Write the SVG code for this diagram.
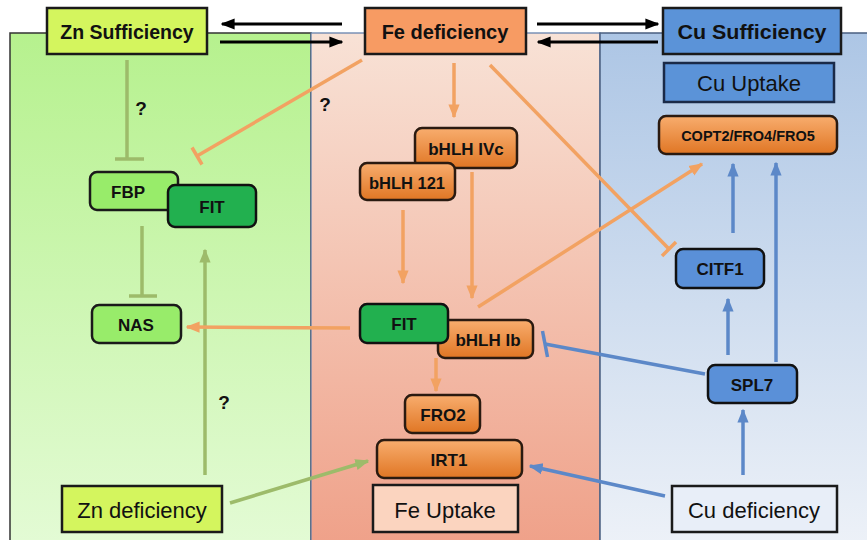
<svg xmlns="http://www.w3.org/2000/svg" width="867" height="540" viewBox="0 0 867 540">
<defs>
<linearGradient id="gL" x1="0" y1="0" x2="0" y2="1"><stop offset="0" stop-color="#b6f18e"/><stop offset="1" stop-color="#e4fbd6"/></linearGradient>
<linearGradient id="gM" x1="0" y1="0" x2="0" y2="1"><stop offset="0" stop-color="#f8e2d6"/><stop offset="1" stop-color="#efa088"/></linearGradient>
<linearGradient id="gR" x1="0" y1="0" x2="0" y2="1"><stop offset="0" stop-color="#adc6e5"/><stop offset="1" stop-color="#eef2f8"/></linearGradient>
<linearGradient id="gO" x1="0" y1="0" x2="0" y2="1"><stop offset="0" stop-color="#f8ad6e"/><stop offset="1" stop-color="#e07624"/></linearGradient>
<marker id="aO" markerUnits="userSpaceOnUse" markerWidth="14" markerHeight="14" viewBox="0 0 10 10" refX="9" refY="5" orient="auto"><path d="M0,1 L10,5 L0,9 Z" fill="#f2a262"/></marker>
<marker id="aG" markerUnits="userSpaceOnUse" markerWidth="14" markerHeight="14" viewBox="0 0 10 10" refX="9" refY="5" orient="auto"><path d="M0,1 L10,5 L0,9 Z" fill="#9dbb6a"/></marker>
<marker id="aB" markerUnits="userSpaceOnUse" markerWidth="14" markerHeight="14" viewBox="0 0 10 10" refX="9" refY="5" orient="auto"><path d="M0,1 L10,5 L0,9 Z" fill="#5c88c8"/></marker>
<marker id="aK" markerUnits="userSpaceOnUse" markerWidth="14" markerHeight="14" viewBox="0 0 10 10" refX="9" refY="5" orient="auto"><path d="M0,1 L10,5 L0,9 Z" fill="#000"/></marker>
</defs>
<style>
.t{font-family:"Liberation Sans",Arial,sans-serif;text-anchor:middle;dominant-baseline:central;fill:#111}
.b{font-weight:bold}
.o{stroke:#f2a262;stroke-width:3.5;fill:none}
.g{stroke:#9dbb6a;stroke-width:3.5;fill:none}
.bl{stroke:#5c88c8;stroke-width:3.5;fill:none}
.k{stroke:#000;stroke-width:3;fill:none}
.on{fill:url(#gO);stroke:#2a1a10;stroke-width:2.5}
.lg{fill:#98ec6a;stroke:#1a1a1a;stroke-width:2.5}
.dg{fill:#22b04f;stroke:#111;stroke-width:2.5}
.bn{fill:#5a90d8;stroke:#111;stroke-width:2.5}
</style>
<g id="panels">
<rect x="10" y="33" width="301" height="520" fill="url(#gL)" stroke="#333" stroke-width="1.5"/>
<rect x="311" y="33" width="289" height="520" fill="url(#gM)" stroke="#5a7aa8" stroke-width="1.2"/>
<rect x="600" y="33" width="280" height="520" fill="url(#gR)" stroke="#4a5f80" stroke-width="1.5"/>
</g>
<g id="connectors">
<line class="k" x1="342" y1="24" x2="222" y2="24" marker-end="url(#aK)"/>
<line class="k" x1="220" y1="42" x2="342" y2="42" marker-end="url(#aK)"/>
<line class="k" x1="537" y1="24" x2="658" y2="24" marker-end="url(#aK)"/>
<line class="k" x1="658" y1="42" x2="538" y2="42" marker-end="url(#aK)"/>
<line class="g" x1="127" y1="60" x2="127" y2="159"/>
<line class="g" x1="115" y1="159" x2="144" y2="159"/>
<line class="g" x1="142" y1="226" x2="142" y2="296"/>
<line class="g" x1="129" y1="296" x2="157" y2="296"/>
<line class="g" x1="205" y1="475" x2="205" y2="250" marker-end="url(#aG)"/>
<line class="g" x1="230" y1="503" x2="368" y2="461" marker-end="url(#aG)"/>
<line class="o" x1="362" y1="60" x2="197" y2="156"/>
<line class="o" x1="192" y1="147.5" x2="202" y2="164.5"/>
<line class="o" x1="490" y1="65" x2="669" y2="249"/>
<line class="o" x1="662" y1="256" x2="676" y2="242"/>
<line class="o" x1="454" y1="63" x2="454" y2="117" marker-end="url(#aO)"/>
<line class="o" x1="403" y1="210" x2="403" y2="283" marker-end="url(#aO)"/>
<line class="o" x1="472" y1="172" x2="472" y2="298" marker-end="url(#aO)"/>
<line class="o" x1="478" y1="307" x2="702" y2="164" marker-end="url(#aO)"/>
<line class="o" x1="350" y1="328" x2="187" y2="327" marker-end="url(#aO)"/>
<line class="o" x1="436" y1="358" x2="436" y2="391" marker-end="url(#aO)"/>
<line class="bl" x1="705" y1="374" x2="545" y2="344"/>
<line class="bl" x1="542.5" y1="331" x2="547.5" y2="357"/>
<line class="bl" x1="665" y1="496" x2="530" y2="466" marker-end="url(#aB)"/>
<line class="bl" x1="733" y1="233" x2="733" y2="164" marker-end="url(#aB)"/>
<line class="bl" x1="776" y1="362" x2="776" y2="163" marker-end="url(#aB)"/>
<line class="bl" x1="728" y1="355" x2="728" y2="299" marker-end="url(#aB)"/>
<line class="bl" x1="743" y1="475" x2="743" y2="410" marker-end="url(#aB)"/>
</g>
<g id="q-labels">
<text class="t b" x="141" y="108" font-size="19">?</text>
<text class="t b" x="325" y="104" font-size="19">?</text>
<text class="t b" x="224" y="402" font-size="19">?</text>
</g>
<g id="zn-sufficiency"><rect x="47" y="8" width="160" height="46" fill="#d4f55e" stroke="#1a1a1a" stroke-width="2.5"/><text class="t b" x="127" y="32" font-size="19.5">Zn Sufficiency</text></g>
<g id="fe-deficiency"><rect x="365" y="8" width="161" height="46" fill="#f79b63" stroke="#1a1a1a" stroke-width="2.5"/><text class="t b" x="445" y="32" font-size="20">Fe deficiency</text></g>
<g id="cu-sufficiency"><rect x="663" y="8" width="178" height="46" fill="#5b93d8" stroke="#1a1a1a" stroke-width="2.5"/><text class="t b" x="752" y="32" font-size="20" textLength="149" lengthAdjust="spacingAndGlyphs">Cu Sufficiency</text></g>
<g id="cu-uptake"><rect x="664" y="63" width="170" height="39" fill="#5b93d8" stroke="#1a2a48" stroke-width="2.5"/><text class="t" x="749" y="83" font-size="22">Cu Uptake</text></g>
<g id="copt2"><rect class="on" x="659" y="116" width="178" height="38" rx="7"/><text class="t b" x="748" y="136" font-size="14.5">COPT2/FRO4/FRO5</text></g>
<g id="fbp"><rect class="lg" x="90" y="172" width="88" height="38" rx="7"/><text class="t b" x="128" y="192" font-size="17">FBP</text></g>
<g id="fit-left"><rect class="dg" x="168" y="185" width="88" height="42" rx="7"/><text class="t b" x="212" y="207" font-size="17">FIT</text></g>
<g id="nas"><rect class="lg" x="92" y="305" width="89" height="38" rx="7"/><text class="t b" x="136" y="325" font-size="17">NAS</text></g>
<g id="zn-deficiency"><rect x="62" y="486" width="160" height="46" fill="#d4f55e" stroke="#1a1a1a" stroke-width="2.5"/><text class="t" x="142" y="510" font-size="22">Zn deficiency</text></g>
<g id="bhlh-ivc"><rect class="on" x="415" y="128" width="102" height="40" rx="7"/><text class="t b" x="466" y="149" font-size="17">bHLH IVc</text></g>
<g id="bhlh-121"><rect class="on" x="360" y="163" width="95" height="37" rx="7"/><text class="t b" x="407" y="183" font-size="16.5">bHLH 121</text></g>
<g id="bhlh-ib"><rect class="on" x="438" y="320" width="95" height="38" rx="7"/><text class="t b" x="488" y="340" font-size="17">bHLH Ib</text></g>
<g id="fit-mid"><rect class="dg" x="360" y="304" width="88" height="39" rx="7"/><text class="t b" x="404" y="324" font-size="17">FIT</text></g>
<g id="fro2"><rect class="on" x="405" y="395" width="75" height="38" rx="7"/><text class="t b" x="443" y="415" font-size="17">FRO2</text></g>
<g id="irt1"><rect class="on" x="377" y="440" width="145" height="38" rx="7"/><text class="t b" x="449" y="460" font-size="17">IRT1</text></g>
<g id="fe-uptake"><rect x="373" y="485" width="145" height="47" fill="#fbd4bf" stroke="#1a1a1a" stroke-width="2.5"/><text class="t" x="445" y="510" font-size="22">Fe Uptake</text></g>
<g id="citf1"><rect class="bn" x="676" y="249" width="88" height="39" rx="7"/><text class="t b" x="720" y="269" font-size="17">CITF1</text></g>
<g id="spl7"><rect class="bn" x="708" y="365" width="89" height="38" rx="7"/><text class="t b" x="752" y="385" font-size="17">SPL7</text></g>
<g id="cu-deficiency"><rect x="672" y="486" width="165" height="46" fill="#e8eef8" stroke="#1a1a1a" stroke-width="2.5"/><text class="t" x="754" y="510" font-size="22">Cu deficiency</text></g>
</svg>
